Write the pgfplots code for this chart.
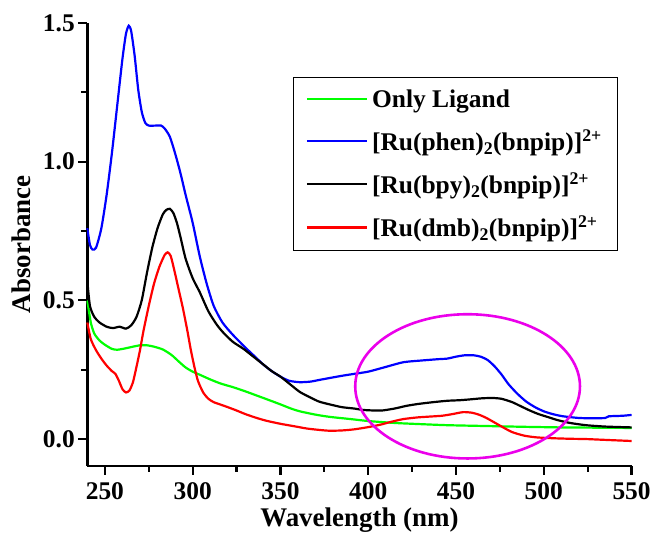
\documentclass[border=0pt]{standalone}
\usepackage{fontspec}
\setmainfont{Liberation Serif}
\usepackage{pgfplots}
\pgfplotsset{compat=1.18}
\definecolor{ellcol}{RGB}{235,0,235}

\pgfplotstableread{
x y
240 0.76
241.5 0.70
243 0.683
245 0.69
248 0.76
251 0.88
254 1.03
257 1.20
260 1.37
262 1.46
263.6 1.49
265 1.47
267 1.38
269 1.26
271 1.18
273 1.14
275 1.13
279 1.13
282 1.13
284 1.12
287 1.09
290 1.03
293 0.96
296 0.88
300 0.78
304 0.66
308 0.56
312 0.48
317 0.42
323 0.375
330 0.33
335 0.30
340 0.27
345 0.245
350 0.225
355 0.21
361 0.205
367 0.207
372 0.213
378 0.22
385 0.228
392 0.235
400 0.243
410 0.26
420 0.277
430 0.283
440 0.288
445 0.29
450 0.297
455 0.302
460 0.302
464 0.297
468 0.285
472 0.262
476 0.232
480 0.197
485 0.163
490 0.135
495 0.115
500 0.100
505 0.090
510 0.083
515 0.079
520 0.076
525 0.075
530 0.075
535 0.076
537 0.082
545 0.084
550 0.087
}\phen

\pgfplotstableread{
x y
240 0.57
241.5 0.48
244 0.44
247 0.42
251 0.405
254.6 0.40
258.5 0.405
262 0.398
265 0.41
268 0.44
271 0.50
274 0.60
277 0.69
280 0.76
283 0.81
285 0.826
287 0.83
289 0.815
291 0.78
293 0.73
296 0.65
300 0.58
304 0.53
309 0.46
314 0.41
318 0.38
323 0.35
329 0.325
334 0.30
340 0.27
345 0.245
350 0.225
355 0.20
361 0.17
367 0.15
372 0.135
378 0.125
385 0.115
392 0.11
397 0.105
403 0.103
408 0.103
415 0.110
422 0.120
429 0.127
437 0.133
445 0.138
452 0.140
458 0.143
465 0.147
471 0.148
476 0.145
482 0.133
487 0.118
492 0.103
497 0.09
502 0.080
508 0.068
515 0.058
524 0.050
535 0.045
550 0.042
}\bpy

\pgfplotstableread{
x y
240 0.42
242 0.36
245 0.32
248 0.29
251 0.265
254 0.245
256 0.235
258 0.21
260 0.18
262 0.168
264 0.175
266 0.205
268 0.26
270 0.32
272 0.39
275 0.48
278 0.56
281 0.62
284 0.663
285.8 0.673
287.5 0.66
289.5 0.61
292 0.54
294.5 0.47
297 0.39
299 0.32
301 0.26
303 0.21
306 0.168
309 0.145
312 0.133
316 0.124
320 0.115
325 0.103
330 0.09
336 0.077
342 0.066
350 0.055
358 0.046
365 0.038
372 0.033
378 0.030
385 0.031
392 0.035
400 0.043
407 0.052
413 0.062
420 0.072
428 0.078
435 0.081
442 0.084
448 0.090
454 0.097
459 0.095
463 0.088
467 0.077
471 0.063
476 0.045
482 0.025
489 0.012
496 0.006
505 0.003
515 0.001
524 0.000
535 -0.003
550 -0.007
}\dmb

\pgfplotstableread{
x y
240 0.50
242 0.42
244 0.38
247 0.355
250 0.34
254 0.325
257 0.322
261 0.326
266 0.333
270 0.338
274 0.338
278 0.333
283 0.323
288 0.303
292 0.28
296 0.258
300 0.243
304 0.232
310 0.215
316 0.20
323 0.187
330 0.172
336 0.158
342 0.144
350 0.125
356 0.11
361 0.10
370 0.088
378 0.080
390 0.072
400 0.065
415 0.058
429 0.054
445 0.050
467 0.047
490 0.044
510 0.042
530 0.041
550 0.040
}\lig

\begin{document}
\begin{tikzpicture}
\begin{axis}[
  at={(0,0)}, anchor=south west,
  scale only axis, width=545.5pt, height=444pt,
  xmin=240, xmax=550, ymin=-0.097, ymax=1.5,
  clip=false,
  axis x line*=bottom, axis y line*=left,
  axis line style={line width=2.4pt, -},
  xtick={250,300,350,400,450,500,550},
  minor xtick={275,325,375,425,475,525},
  ytick={0,0.5,1.0,1.5}, minor ytick={0.25,0.75,1.25},
  tick align=outside,
  major tick length=9pt, minor tick length=6pt,
  tick style={line width=2.2pt, draw=black},
  tick label style={font=\fontsize{25.5}{30}\selectfont\bfseries},
  /pgf/number format/assume math mode=true,
  y tick label style={/pgf/number format/fixed, /pgf/number format/fixed zerofill, /pgf/number format/precision=1},
  x tick label style={/pgf/number format/1000 sep={}, yshift=-4pt},
  xlabel={Wavelength (nm)},
  ylabel={Absorbance},
  label style={font=\fontsize{27}{30}\selectfont\bfseries},
  xlabel style={yshift=-1pt},
  ylabel style={yshift=5pt},
  legend style={at={(rel axis cs:0.378,0.878)}, anchor=north west, draw=black, line width=1.2pt,
    font=\fontsize{25.5}{30}\selectfont\bfseries, row sep=17pt, inner xsep=12pt, inner ysep=10pt,
    nodes={inner xsep=4pt}},
  legend cell align=left,
  legend image code/.code={\draw[#1, line width=2.6pt] (0pt,0pt) -- (60pt,0pt);},
]
\addplot[green, line width=2.2pt, smooth, tension=0.4] table {\lig};
\addlegendentry{Only Ligand}
\addplot[blue, line width=2.2pt, smooth, tension=0.4] table {\phen};
\addlegendentry{[Ru(phen)\textsubscript{2}(bnpip)]\textsuperscript{2+}}
\addplot[black, line width=2.2pt, smooth, tension=0.4] table {\bpy};
\addlegendentry{[Ru(bpy)\textsubscript{2}(bnpip)]\textsuperscript{2+}}
\addplot[red, line width=2.2pt, smooth, tension=0.4] table {\dmb};
\addlegendentry{[Ru(dmb)\textsubscript{2}(bnpip)]\textsuperscript{2+}}
\draw[line width=2.6pt, ellcol] (axis cs:456.6,0.19) ellipse [x radius=64, y radius=0.26];
\pgfplotsinvokeforeach{250,300,350,400,450,500,550}{\draw[line width=2.2pt, black] (axis cs:#1,-0.097) -- ++(0pt,-9pt);}
\pgfplotsinvokeforeach{275,325,375,425,475,525}{\draw[line width=2.2pt, black] (axis cs:#1,-0.097) -- ++(0pt,-6pt);}
\pgfplotsinvokeforeach{0,0.5,1.0,1.5}{\draw[line width=2.2pt, black] (axis cs:240,#1) -- ++(-9pt,0pt);}
\pgfplotsinvokeforeach{0.25,0.75,1.25}{\draw[line width=2.2pt, black] (axis cs:240,#1) -- ++(-6pt,0pt);}
\end{axis}
\path (-87.5pt,-61pt) rectangle (566.5pt,467pt);
\end{tikzpicture}
\end{document}
